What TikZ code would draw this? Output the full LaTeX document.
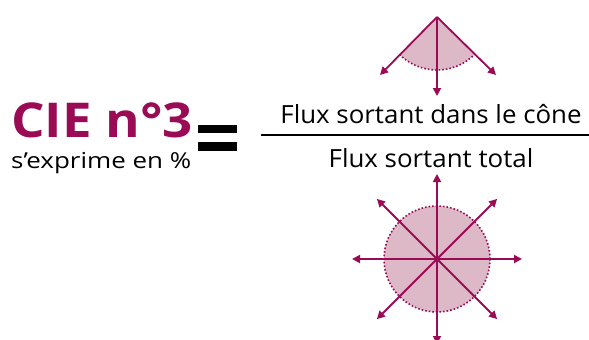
\documentclass[tikz,border=0pt]{standalone}
\usepackage{fontspec}
\setmainfont{Open Sans}
\usetikzlibrary{arrows.meta}
\definecolor{plum}{HTML}{9A0A55}
\definecolor{pinkfill}{HTML}{DDB8C6}
\begin{document}
\begin{tikzpicture}[x=1pt,y=-1pt,
  ray/.style={draw=plum,line width=1.8pt,-{Triangle[length=8pt,width=8pt]}},
  rim/.style={draw=plum,line width=1.6pt,dotted},
  lbl/.style={inner sep=0pt,anchor=base west},
  frac/.style={inner sep=0pt,anchor=base,font=\fontsize{25}{25}\selectfont}]
\useasboundingbox (0,0) rectangle (589,340);
% title
\node[lbl,text=plum,font=\bfseries\fontsize{48}{48}\selectfont] (cie) at (11,137) {\scalebox{1.1}[1]{CIE n°3}};
\node[lbl,font=\fontsize{22}{22}\selectfont] (pct) at (11,168) {\scalebox{1.18}[1]{s’exprime en \%}};
% equals sign
\fill[black] (198,125) rectangle (237,133);
\fill[black] (198,142) rectangle (237,151);
% fraction
\coordinate (fl) at (261,135);
\coordinate (fr) at (589,135);
\draw[line width=2pt] (fl) -- (fr);
\node[frac] (num) at (431,123) {\scalebox{1.035}[1]{Flux sortant dans le cône}};
\node[frac] (den) at (431,167) {\scalebox{1.035}[1]{Flux sortant total}};
% cone
\coordinate (apex) at (437,17);
\fill[pinkfill] (apex) -- ++(135:53) arc[start angle=135,end angle=45,radius=53] -- cycle;
\draw[rim] (apex) ++(135:53) arc[start angle=135,end angle=45,radius=53];
\coordinate (cl) at (380,75);
\coordinate (cr) at (496,75);
\coordinate (cd) at (437,96);
\draw[ray] (apex) -- (cl);
\draw[ray] (apex) -- (cr);
\draw[ray] (apex) -- (cd);
% sphere
\coordinate (ctr) at (437,259);
\fill[pinkfill] (ctr) circle[radius=53];
\draw[rim] (ctr) circle[radius=53];
\foreach \a in {0,45,...,315}{
  \draw[ray] (ctr) -- ++(\a:85) coordinate (e\a);
}
\end{tikzpicture}
\end{document}
